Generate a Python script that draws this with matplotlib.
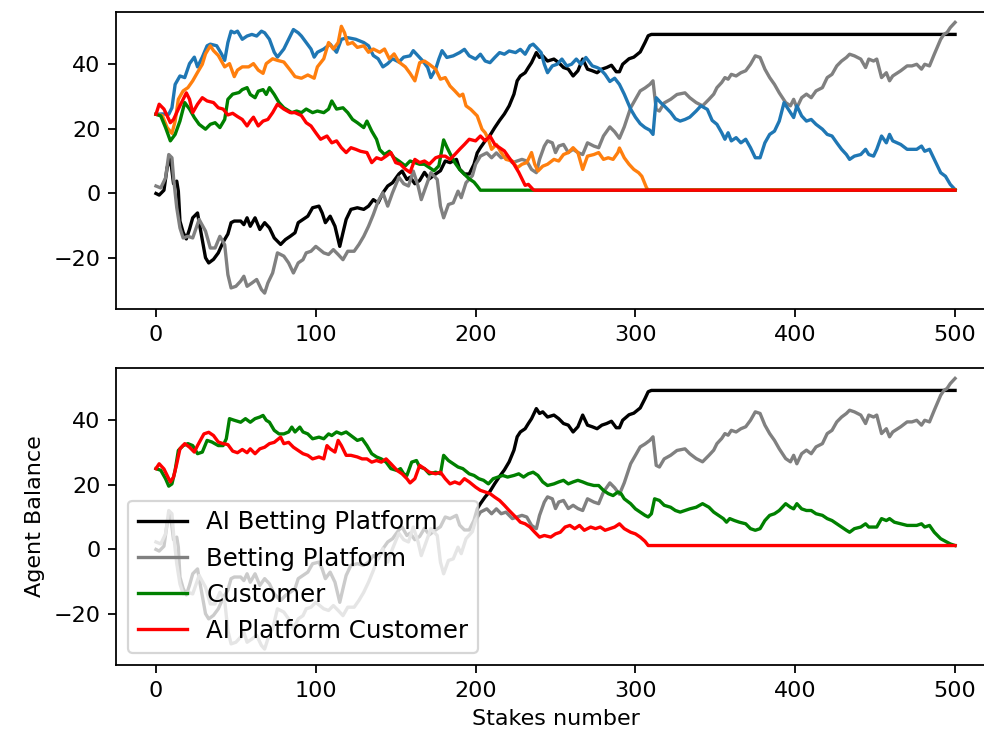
import matplotlib
matplotlib.use("Agg")
import matplotlib.pyplot as plt

# platform balances (same in both panels)
ai_platform_stakes = [0, 2, 5, 7, 9, 11, 13, 14, 15, 17, 19, 21, 23, 26, 28, 31, 33, 36, 39, 42, 45, 47, 49,
                      53, 55, 57, 59, 62, 65, 68, 71, 74, 78, 81, 84, 87, 89, 92, 95, 98, 102, 104, 106, 109,
                      112, 115, 117, 119, 122, 126, 130, 133, 136, 139, 142, 145, 148, 152, 154, 157, 159, 162,
                      165, 168, 171, 175, 178, 181, 184, 188, 190, 193, 196, 199, 201, 203, 206, 209, 212, 215,
                      218, 221, 224, 226, 228, 231, 233, 235, 238, 240, 242, 245, 249, 252, 255, 258, 261, 264,
                      267, 270, 273, 276, 279, 282, 285, 288, 290, 292, 296, 299, 303, 306, 308, 310, 500]
ai_platform_balance = [0, -0.5, 1, 8, 11, 3, 3.8, 0.7, -8.5, -12, -14, -11, -7.5, -6, -11.6, -19.8, -21.4, -20.3,
                       -18.3, -15, -12.5, -9, -8.5, -8.5, -9.6, -7.5, -10.1, -7.5, -11.1, -9, -10.6, -13.7, -15.7,
                       -14.2, -13.2, -12.1, -9, -8, -7, -4.4, -3.9, -6, -9, -7, -10.1, -16.3, -12.1, -8, -4.9,
                       -4.4, -4.9, -3.9, -1.9, -2.9, 0.2, 2.3, 3.3, 6, 6.9, 4.3, 5, 3, 4, 6.5, 4.5, 6, 7, 10,
                       9.5, 10.5, 7.5, 6, 6, 9, 12.5, 14.1, 16.2, 17.9, 20.3, 22.5, 24.5, 27, 30.6, 34.7, 36.2,
                       37.2, 38.8, 40.3, 43.4, 41.9, 42.4, 40.8, 41.4, 40.3, 38.8, 38.3, 36.2, 37.8, 41.4, 38.3,
                       37.8, 37.2, 38.3, 38.8, 39.5, 37.5, 37.5, 39.8, 41.5, 42, 43.6, 46.5, 48.6, 49, 49]

platform_stakes = [0, 3, 6, 8, 10, 11, 13, 15, 17, 20, 23, 27, 31, 34, 37, 40, 43, 45, 47, 50, 53, 55, 57, 60,
                   63, 66, 68, 70, 73, 76, 80, 83, 86, 89, 92, 94, 97, 100, 105, 108, 111, 114, 117, 120, 124,
                   127, 130, 133, 136, 139, 142, 145, 148, 152, 155, 158, 161, 164, 166, 169, 172, 176, 178,
                   180, 183, 186, 189, 191, 194, 198, 200, 203, 207, 210, 213, 216, 219, 223, 226, 229, 232,
                   235, 238, 240, 243, 245, 248, 250, 252, 255, 258, 261, 264, 267, 270, 274, 277, 280, 284,
                   287, 290, 293, 297, 300, 303, 306, 309, 311, 313, 315, 318, 322, 326, 331, 334, 338, 342,
                   346, 349, 351, 354, 356, 358, 360, 363, 366, 369, 372, 375, 378, 381, 384, 387, 390, 394,
                   397, 399, 401, 404, 407, 410, 413, 417, 420, 423, 426, 429, 432, 434, 437, 441, 444, 446,
                   449, 451, 454, 457, 459, 461, 466, 470, 473, 476, 479, 481, 484, 487, 491, 493, 495, 497, 500]
platform_balance = [2.3, 1.7, 4.8, 12, 11, 4.8, -4.4, -10.6, -13.7, -13.2, -13.7, -8, -11.6, -16.8, -16.8,
                    -13.2, -15.8, -25, -29.1, -28.6, -27, -25.5, -28.6, -27.6, -26.5, -29.6, -30.7, -27.6,
                    -24.5, -18.3, -19.3, -21.4, -24.5, -21.4, -20.4, -18.3, -17.8, -16.3, -18.3, -18.8, -17.3,
                    -18.8, -20.4, -17.8, -17.8, -15.7, -13.2, -10.1, -6.5, -2.4, 0.2, -3.9, 0.2, 5, 3, 2.3,
                    6.9, 2.3, -1.9, 2.3, 6.4, 4.3, -3.9, -7.5, -3.4, -2.9, 0.7, -1.3, 3.3, 5.5, 9, 11.5, 12.5,
                    11, 12.5, 11, 11.5, 9.5, 10, 10.5, 10, 7.4, 6.4, 10.5, 14.6, 16.2, 15.6, 12.6, 14.6, 15.1,
                    12.6, 13.6, 12.6, 12, 15.6, 14.6, 14.1, 17.7, 20.5, 19, 17, 20.5, 26.4, 29, 31.6, 32.5,
                    33.6, 34.7, 25.9, 25.4, 27.9, 29, 30.5, 31, 29.5, 28, 27, 29, 30.6, 32.6, 34.2, 35.7, 35.2,
                    36.7, 36.2, 37.2, 37.8, 39.8, 42.4, 41.9, 38.3, 35.7, 33.6, 31, 28, 27, 29, 26.4, 29.5,
                    30.6, 29.5, 31.6, 32.6, 35.7, 36.7, 39.3, 40.8, 41.9, 42.9, 42.4, 41.4, 38.8, 41.4, 40.8,
                    41.4, 35.7, 37.2, 34.7, 36.2, 37.8, 39.3, 39.3, 39.8, 38.3, 39.8, 39.3, 42.9, 47.5, 49,
                    49.6, 51.1, 52.7]

# top panel customers
blue_stakes = [0, 4, 8, 10, 12, 15, 18, 21, 24, 26, 29, 32, 34, 38, 41, 43, 45, 47, 49, 51, 54, 57, 60, 63, 66,
               68, 71, 74, 76, 80, 84, 86, 89, 91, 94, 97, 99, 101, 105, 109, 113, 116, 120, 125, 130, 133, 136,
               139, 142, 145, 148, 152, 155, 159, 161, 164, 167, 170, 172, 175, 177, 179, 182, 186, 190, 193,
               196, 200, 203, 206, 209, 212, 215, 218, 221, 225, 228, 231, 234, 236, 238, 241, 243, 245, 248,
               251, 254, 257, 260, 263, 266, 269, 273, 276, 278, 281, 284, 287, 290, 293, 297, 300, 303, 306,
               309, 311, 313, 316, 318, 322, 325, 328, 331, 334, 338, 341, 345, 348, 351, 354, 356, 358, 360,
               363, 366, 369, 372, 375, 378, 381, 384, 387, 390, 393, 397, 399, 401, 404, 407, 410, 413, 417,
               420, 423, 426, 429, 432, 434, 437, 441, 444, 446, 449, 451, 454, 457, 459, 461, 466, 470, 473,
               476, 479, 481, 484, 487, 491, 494, 497, 500]
blue_balance = [24.4, 24.5, 24.4, 26.4, 33.6, 36.2, 35.7, 40, 42, 39, 42, 45.5, 46, 45.5, 43, 41, 46.5, 50,
                49.5, 50, 47.5, 48.5, 49, 48.5, 50, 49.5, 47.5, 43.5, 42, 44.5, 48.5, 50.5, 49.5, 48.5, 46.5,
                44.5, 42, 43.5, 44.5, 46, 43.5, 47.5, 48, 47.5, 46.5, 45.5, 42.5, 41.5, 39, 40, 41.5, 40.5, 42,
                42.4, 44, 42.4, 40.8, 38.8, 35.7, 38.3, 41.4, 44, 41.9, 42.4, 43.4, 44.4, 42.4, 41.4, 42.9,
                40.8, 40.3, 41.9, 43.4, 42.9, 43.9, 43.4, 44.4, 42.9, 45.5, 46, 45, 43.4, 39.8, 37.2, 39.3,
                39.8, 41.4, 39.3, 39.8, 41.4, 39.8, 41.9, 39.3, 38.8, 38.3, 36.7, 34.5, 35.5, 33.6, 30.6, 26,
                23.5, 21.5, 20.3, 19.5, 18.2, 29.5, 27.9, 27, 25, 23, 22.3, 22.8, 23.5, 25.4, 27, 25.9, 22.5,
                21.3, 18.7, 16.7, 18.7, 16.2, 17.2, 15.6, 16.7, 14.1, 11, 11, 15.6, 18.2, 19.2, 22.3, 28, 24.9,
                23.4, 27, 23.9, 22.3, 22.8, 21.3, 19.8, 18.2, 17.7, 15.6, 13.6, 12, 10.5, 11.5, 12, 13.6, 12,
                11.5, 13.6, 17.7, 15.6, 18.2, 16.2, 15.1, 13.6, 13.6, 13.6, 14.6, 13, 13.6, 10.5, 6.4, 5.3,
                2.8, 1.2]

orange_stakes = [0, 4, 7, 10, 12, 14, 17, 20, 23, 26, 29, 31, 34, 36, 39, 43, 46, 49, 51, 54, 58, 61, 64, 67,
                 69, 73, 76, 80, 84, 87, 91, 95, 99, 101, 105, 108, 111, 114, 116, 118, 120, 123, 126, 130, 133,
                 136, 140, 143, 146, 149, 152, 156, 159, 162, 165, 168, 171, 175, 178, 181, 184, 187, 190, 192,
                 194, 197, 201, 204, 206, 208, 210, 213, 216, 219, 223, 226, 229, 232, 235, 237, 239, 242, 245,
                 249, 252, 255, 258, 261, 264, 267, 270, 274, 277, 280, 283, 286, 289, 290, 293, 296, 299, 302,
                 304, 307, 308, 500]
orange_balance = [24.4, 24, 20.3, 18.5, 22.3, 29, 31.6, 32.6, 34.7, 37.3, 39.8, 43, 45.5, 44, 42.5, 39, 40,
                  36, 38, 39, 39, 40, 38, 37, 40, 41.5, 41, 40.5, 38, 36, 35.5, 36.5, 35.5, 39, 41.5, 46.5,
                  44.5, 46.5, 51.5, 49.5, 46, 46.5, 45, 45.5, 43.5, 44.5, 43.5, 44.5, 41.5, 43, 40.5, 39, 37,
                  34.7, 40.3, 40.8, 39.8, 38.3, 35.2, 35.7, 33.1, 31.6, 30, 30.6, 27, 25.9, 23.9, 19.8, 18.7,
                  16.7, 13.6, 15.1, 12.6, 10.5, 10, 7.9, 9, 9.5, 12.6, 9, 6.9, 8.4, 9, 10.5, 10, 12, 12.6, 14.1,
                  12.6, 7.4, 11.5, 12, 12.6, 10.5, 11, 10.5, 12.6, 14, 11, 9, 7.4, 6.4, 5.3, 1.7, 1.1, 1.1]

green_top_stakes = [0, 3, 6, 9, 12, 15, 18, 21, 24, 27, 31, 34, 37, 40, 43, 45, 48, 52, 54, 57, 59, 62, 64, 67,
                    69, 71, 74, 77, 80, 85, 88, 91, 94, 98, 101, 105, 108, 110, 113, 117, 120, 123, 126, 130,
                    132, 135, 138, 140, 143, 146, 149, 152, 156, 159, 162, 165, 168, 171, 174, 177, 180, 182,
                    184, 187, 190, 193, 196, 199, 201, 203, 500]
green_top_balance = [24.4, 23.9, 20.3, 16.2, 18.2, 22.3, 28, 26, 23.4, 21.3, 19.8, 21.3, 21.8, 20.3, 22.8, 29,
                     30.6, 31.1, 32, 32.6, 30.5, 29.5, 31.5, 32, 30.5, 32.6, 30.5, 28, 26.4, 24.9, 25.4, 24.9,
                     26, 24.9, 25.4, 24.9, 26, 28.5, 26, 26.4, 24.9, 22.8, 21.8, 20.3, 22.3, 19.2, 16.7, 13.5,
                     12, 13, 11, 10, 8.5, 10, 9.5, 9, 9, 8, 7, 8.5, 16.5, 14.3, 12.3, 9.5, 7.4, 5.9, 4.5, 3.5,
                     2.3, 1, 1]

red_top_stakes = [0, 2, 5, 9, 11, 14, 17, 19, 21, 23, 26, 29, 32, 36, 39, 42, 45, 48, 51, 54, 57, 59, 61, 64,
                  67, 70, 73, 76, 80, 84, 87, 91, 94, 97, 100, 103, 107, 110, 113, 116, 119, 122, 125, 128, 132,
                  135, 138, 141, 144, 147, 150, 153, 156, 159, 162, 165, 168, 171, 175, 178, 181, 184, 187, 190,
                  193, 196, 200, 203, 206, 209, 212, 215, 218, 221, 224, 227, 229, 231, 233, 236, 237, 500]
red_top_balance = [24.4, 27.5, 26, 21.8, 22.8, 26, 29, 31, 29, 24.9, 27.5, 29.5, 28.5, 28, 26.4, 26, 24.2,
                   24.7, 23.7, 22.8, 20.8, 22.3, 23.5, 20.8, 22.3, 22.8, 24.9, 27.5, 26, 24.9, 24.9, 24, 21.8,
                   20.8, 18.7, 16.7, 17.7, 15.6, 16.2, 14.1, 12.6, 14.1, 13.6, 13, 12.6, 9.5, 11, 10.5, 11.5,
                   12.6, 9.5, 9, 7.5, 6.5, 10.5, 9.5, 10, 9, 11, 11.5, 11.5, 10.5, 12, 13.6, 15.1, 16.7, 16.2,
                   17.7, 16.2, 17.7, 15.1, 14.1, 13.1, 11, 9, 6.5, 4.5, 2.5, 2.8, 1.2, 1, 1]

# bottom panel customers
customer_stakes = [0, 3, 6, 8, 10, 12, 14, 17, 20, 23, 26, 29, 32, 35, 39, 42, 44, 46, 49, 53, 56, 59, 62, 65,
                   67, 69, 71, 74, 77, 80, 83, 85, 87, 90, 92, 95, 98, 102, 105, 108, 110, 113, 116, 119, 122,
                   126, 129, 132, 135, 138, 141, 144, 147, 151, 153, 155, 157, 160, 163, 165, 168, 171, 175,
                   178, 180, 183, 186, 189, 192, 196, 199, 202, 205, 208, 211, 214, 217, 220, 224, 227, 230,
                   233, 236, 239, 242, 245, 249, 252, 255, 258, 261, 264, 267, 270, 274, 277, 280, 283, 286,
                   289, 291, 293, 297, 300, 303, 306, 308, 310, 312, 315, 318, 322, 325, 328, 331, 334, 338,
                   342, 346, 349, 352, 355, 357, 359, 362, 365, 369, 372, 375, 378, 381, 384, 387, 390, 394,
                   397, 399, 401, 404, 407, 410, 413, 417, 420, 423, 426, 429, 432, 434, 437, 441, 444, 446,
                   449, 451, 454, 457, 459, 462, 466, 470, 473, 476, 479, 481, 484, 487, 491, 494, 497, 500]
customer_balance = [24.9, 24.4, 21.8, 19.5, 20.2, 24.4, 30.5, 32, 32.6, 32, 29.5, 30, 33.6, 33.1, 32, 32, 34.1,
                    40.3, 39.8, 39.2, 40.3, 39.2, 40.3, 40.8, 41.3, 39.8, 39.2, 36.7, 35.6, 35.6, 36.2, 37.7,
                    36.2, 37.7, 36.2, 35.6, 34.1, 34.6, 34.1, 35.6, 35.1, 36.2, 35.6, 36.2, 35.1, 33.6, 34.1,
                    32, 29.5, 28.5, 27.9, 26.9, 24.9, 24.3, 24.9, 23.3, 22.8, 26.9, 27.4, 25.4, 24.9, 23.3,
                    23.8, 23.3, 29, 27.4, 26.4, 25.4, 24.9, 23.3, 22.8, 21.8, 21.3, 20.2, 21.8, 22.3, 22.8,
                    22.3, 22.8, 23.3, 22.3, 23.3, 23.8, 22.8, 20.8, 19.7, 20.2, 20.8, 21.3, 20.2, 20.8, 21.3,
                    20.8, 20.2, 19.7, 19.7, 18.2, 17.2, 16.6, 17.7, 17.2, 15.6, 14.1, 12.5, 11.5, 10.5, 10, 11,
                    15.6, 15.1, 13.6, 13, 12, 11.5, 12, 12.5, 13, 14.1, 13, 11.5, 10.5, 9.5, 8.4, 9.5, 8.9, 8.4,
                    7.9, 6.4, 5.9, 6.4, 8.9, 10.5, 11, 12, 14.1, 13, 12.5, 14.1, 12.5, 12, 12, 11, 10.5, 9.5,
                    8.9, 7.9, 6.9, 5.9, 5.3, 6.4, 6.9, 7.9, 6.9, 6.9, 6.9, 9.5, 8.9, 9.5, 8.4, 7.9, 7.4, 7.4,
                    7.4, 7.9, 6.9, 7.4, 5.3, 3.3, 2.5, 1.7, 1.2]

ai_customer_stakes = [0, 2, 5, 9, 11, 13, 15, 18, 21, 24, 26, 30, 33, 36, 39, 42, 45, 48, 51, 54, 57, 59, 62,
                      65, 68, 71, 74, 78, 80, 83, 86, 89, 92, 95, 98, 102, 105, 107, 109, 112, 114, 116, 119,
                      122, 126, 129, 132, 135, 138, 141, 144, 147, 151, 154, 157, 159, 162, 165, 168, 171, 175,
                      178, 181, 184, 187, 190, 193, 196, 200, 203, 206, 209, 212, 215, 218, 221, 225, 228, 231,
                      234, 237, 240, 243, 247, 250, 253, 256, 259, 262, 265, 268, 272, 275, 278, 281, 284, 287,
                      290, 293, 297, 300, 303, 306, 308, 500]
ai_customer_balance = [24.9, 26.4, 24.8, 20.8, 22.3, 26.4, 31, 32.6, 31.5, 30, 32, 35.6, 36.1, 35.1, 33.1,
                       32.6, 32.3, 30.3, 29.8, 30.8, 29.8, 31, 29.5, 31, 31.5, 32.6, 33, 34.6, 32.6, 33, 31.5,
                       30.5, 29.5, 29, 27.9, 28.5, 27.9, 32, 31, 30, 33.6, 32, 29, 29, 28.5, 27.9, 27.9, 26.9,
                       27.4, 26.9, 27.9, 26.4, 24.3, 23.3, 21.8, 20.5, 21.8, 25.9, 24.9, 23.8, 23.3, 23.8,
                       21.8, 20.2, 20.8, 20.2, 21.8, 20.8, 19.2, 18.2, 17.7, 17.2, 16.1, 15.1, 13.6, 12, 10,
                       8.4, 7.9, 6.9, 5.3, 3.8, 4.3, 3.8, 4.8, 5.3, 6.9, 7.4, 6.4, 7.4, 5.9, 6.9, 6.4, 6.9, 5.9,
                       6.4, 6.9, 7.9, 6.4, 5.3, 4.8, 3.8, 2.5, 1.2, 1.2]

legend_labels = ["AI Betting Platform", "Betting Platform", "Customer", "AI Platform Customer"]

fig = plt.figure(figsize=(6.15, 4.625), dpi=160)
ax_top = fig.add_axes([0.1179, 0.5824, 0.8933, 0.4018])
ax_bot = fig.add_axes([0.1179, 0.1014, 0.8933, 0.4017])

ax_top.plot(ai_platform_stakes, ai_platform_balance, color="black")
ax_top.plot(platform_stakes, platform_balance, color="gray")
ax_top.plot(blue_stakes, blue_balance, color="tab:blue")
ax_top.plot(orange_stakes, orange_balance, color="tab:orange")
ax_top.plot(green_top_stakes, green_top_balance, color="green")
ax_top.plot(red_top_stakes, red_top_balance, color="red")

ax_bot.plot(ai_platform_stakes, ai_platform_balance, color="black", label=legend_labels[0])
ax_bot.plot(platform_stakes, platform_balance, color="gray", label=legend_labels[1])
ax_bot.plot(customer_stakes, customer_balance, color="green", label=legend_labels[2])
ax_bot.plot(ai_customer_stakes, ai_customer_balance, color="red", label=legend_labels[3])

for ax in (ax_top, ax_bot):
    ax.set_xlim(-25, 525)
    ax.set_ylim(-35.6, 56.0)

ax_bot.legend(loc="lower left", fontsize=11)
ax_bot.set_xlabel("Stakes number")
ax_bot.set_ylabel("Agent Balance")

fig.savefig("out.png", dpi=160)
